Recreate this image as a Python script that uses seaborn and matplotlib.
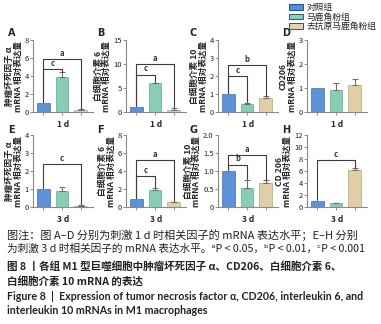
"""Relative mRNA expression in M1 macrophages (figure 8 recreation)."""

import matplotlib

matplotlib.use("Agg")

import matplotlib.pyplot as plt
import pandas as pd
import seaborn as sns
from matplotlib.patches import Patch
from matplotlib.ticker import FuncFormatter

sns.set_theme(style="ticks")
CJK = ["Noto Sans CJK SC", "DejaVu Sans"]
plt.rcParams["font.family"] = CJK
plt.rcParams["axes.unicode_minus"] = False

# ---- data -----------------------------------------------------------------
groups = ["对照组", "马鹿角粉组", "去抗原马鹿角粉组"]
colors = ["#4A8FEA", "#7DD8B8", "#E9D39D"]
edge_colors = ["#3A6FB8", "#5AAE90", "#B9A373"]

panel_letters = ["A", "B", "C", "D", "E", "F", "G", "H"]
day_labels = ["1 d", "1 d", "1 d", "1 d", "3 d", "3 d", "3 d", "3 d"]
y_labels = [
    "肿瘤坏死因子 α\nmRNA 相对表达量",
    "白细胞介素 6\nmRNA 相对表达量",
    "白细胞介素 10\nmRNA 相对表达量",
    "CD206\nmRNA 相对表达量",
    "肿瘤坏死因子 α\nmRNA 相对表达量",
    "白细胞介素 6\nmRNA 相对表达量",
    "白细胞介素 10\nmRNA 相对表达量",
    "CD 206\nmRNA 相对表达量",
]
y_max = [8, 15, 4, 3, 4, 8, 2.0, 12]
y_step = [2, 5, 1, 1, 1, 2, 0.5, 2]

tnf_1d = [1.0, 3.9, 0.25]
tnf_1d_err = [0.0, 0.5, 0.05]
il6_1d = [1.0, 5.95, 0.45]
il6_1d_err = [0.0, 0.12, 0.4]
il10_1d = [1.0, 0.45, 0.78]
il10_1d_err = [0.0, 0.04, 0.09]
cd206_1d = [1.0, 0.92, 1.12]
cd206_1d_err = [0.0, 0.28, 0.27]
tnf_3d = [1.0, 0.9, 0.07]
tnf_3d_err = [0.0, 0.2, 0.04]
il6_3d = [0.92, 1.9, 0.55]
il6_3d_err = [0.0, 0.2, 0.06]
il10_3d = [1.0, 0.52, 0.67]
il10_3d_err = [0.0, 0.23, 0.07]
cd206_3d = [1.0, 0.68, 6.1]
cd206_3d_err = [0.0, 0.03, 0.35]

panel_means = [tnf_1d, il6_1d, il10_1d, cd206_1d, tnf_3d, il6_3d, il10_3d, cd206_3d]
panel_errs = [tnf_1d_err, il6_1d_err, il10_1d_err, cd206_1d_err,
              tnf_3d_err, il6_3d_err, il10_3d_err, cd206_3d_err]

# significance brackets: (group i, group j, bracket height, mark)
panel_brackets = [
    [(0, 1, 4.8, "c"), (0, 2, 5.9, "a")],
    [(0, 1, 7.8, "c"), (0, 2, 9.9, "a")],
    [(0, 1, 2.0, "c"), (0, 2, 2.63, "b")],
    [],
    [(0, 2, 2.4, "c")],
    [(0, 1, 3.4, "c"), (0, 2, 5.2, "a")],
    [(0, 1, 1.18, "b"), (0, 2, 1.44, "a")],
    [(0, 2, 7.9, "c")],
]

caption_lines = [
    "图注：图 A–D 分别为刺激 1 d 时相关因子的 mRNA 表达水平；E–H 分别",
    "为刺激 3 d 时相关因子的 mRNA 表达水平。ᵃP < 0.05，ᵇP < 0.01，ᶜP < 0.001",
    "图 8 丨各组 M1 型巨噬细胞中肿瘤坏死因子 α、CD206、白细胞介素 6、",
    "白细胞介素 10 mRNA 的表达",
    "Figure 8  |  Expression of tumor necrosis factor α, CD206, interleukin 6, and",
    "interleukin 10 mRNAs in M1 macrophages",
]

# ---- layout (pixels of a 381x324 canvas) ------------------------------------
W, H = 381, 324
col_left = [33, 126, 218, 307]
row_top = [40, 135]
ax_w, ax_h = 60, 72

fig = plt.figure(figsize=(W / 100, H / 100), dpi=100)


def px_box(left, top, width, height):
    return [left / W, 1 - (top + height) / H, width / W, height / H]


def tick_fmt(step):
    if step < 1:
        return FuncFormatter(lambda v, _: "0" if v == 0 else f"{v:.1f}")
    return FuncFormatter(lambda v, _: f"{v:g}")


for k in range(8):
    row, col = divmod(k, 4)
    ax = fig.add_axes(px_box(col_left[col], row_top[row], ax_w, ax_h))
    means = panel_means[k]
    errs = panel_errs[k]
    df = pd.DataFrame({"group": groups, "value": means})

    sns.barplot(data=df, x="group", y="value", hue="group", palette=colors,
                width=0.68, legend=False, ax=ax, linewidth=0.5)
    for patch, ec in zip(ax.patches, edge_colors):
        patch.set_edgecolor(ec)

    for i in range(3):
        if errs[i] > 0:
            ax.errorbar(i, means[i], yerr=[[0], [errs[i]]], fmt="none",
                        ecolor="#6f6f6f", elinewidth=0.8, capsize=2.2,
                        capthick=0.8, zorder=3)

    tops = [m + e for m, e in zip(means, errs)]
    for i, j, h, mark in panel_brackets[k]:
        gap = y_max[k] * 0.01
        ax.plot([i, i, j, j], [tops[i] + gap, h, h, tops[j] + gap],
                color="#3c3c3c", lw=0.8, zorder=4)
        ax.text((i + j) / 2, h + y_max[k] * 0.015, mark, ha="center",
                va="bottom", fontsize=5.5, fontweight="bold", color="#333333")

    ax.set_xlim(-0.55, 2.65)
    ax.set_ylim(0, y_max[k])
    n = int(round(y_max[k] / y_step[k]))
    ax.set_yticks([y_step[k] * t for t in range(n + 1)])
    ax.yaxis.set_major_formatter(tick_fmt(y_step[k]))
    ax.set_xticks([0, 1, 2])
    ax.set_xticklabels([])
    ax.tick_params(axis="both", length=2, width=0.6, color="#777777",
                   labelsize=5.5, pad=1, labelcolor="#222222")
    ax.set_xlabel(day_labels[k], fontsize=6, fontweight="bold", labelpad=3)
    ax.set_ylabel(y_labels[k], fontsize=6.2, fontweight="bold",
                  labelpad=1.5, linespacing=0.95)
    for side in ("left", "bottom"):
        ax.spines[side].set_color("#8a8a8a")
        ax.spines[side].set_linewidth(0.8)
    sns.despine(ax=ax)

    lx = [8, 97, 189, 282][col]
    ly = [33, 130][row]
    fig.text(lx / W, 1 - ly / H, panel_letters[k], fontsize=7,
             fontweight="bold", ha="left", va="center", family=["DejaVu Sans"])

handles = [Patch(facecolor=c, edgecolor="#1f3a66", linewidth=0.6) for c in colors]
fig.legend(handles, groups, loc="upper left", bbox_to_anchor=(284 / W, 1.005),
           frameon=False, fontsize=6.3, handlelength=1.6, handleheight=0.6,
           handletextpad=0.4, labelspacing=0.05, borderpad=0.05)

caption_y = [235, 249, 267, 281, 297, 310]
caption_size = [8.0, 7.7, 7.6, 7.6, 7.7, 7.7]
caption_weight = ["normal", "normal", "bold", "bold", "bold", "bold"]
for i, line in enumerate(caption_lines):
    fam = CJK if i < 4 else ["Lato", "DejaVu Sans"]
    fig.text(7 / W, 1 - caption_y[i] / H, line, fontsize=caption_size[i],
             fontweight=caption_weight[i], ha="left", va="center",
             color="#222222", family=fam)

fig.savefig("out.png", dpi=100)
